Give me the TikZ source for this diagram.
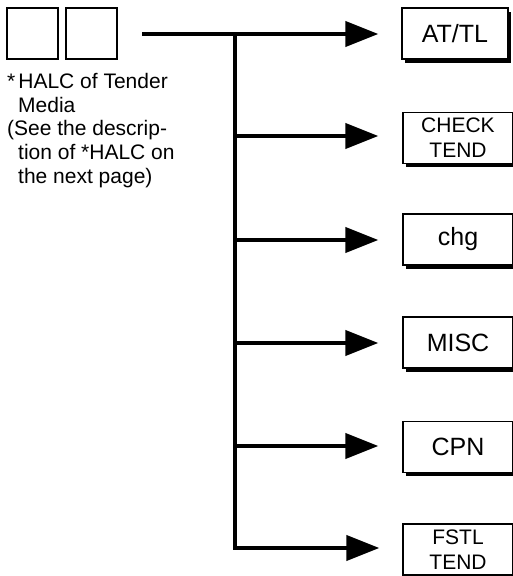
\documentclass[tikz,border=0pt]{standalone}
\usepackage{fontspec}
\setmainfont{Liberation Sans}
\usetikzlibrary{arrows.meta,shadows}

\begin{document}
\begin{tikzpicture}[x=1pt, y=-1pt,
    every node/.style={inner sep=0pt},
    sq/.style={rectangle, draw, line width=1.3pt, minimum size=51pt},
    bx/.style={rectangle, draw, fill=white, line width=1.3pt,
               minimum width=110pt, minimum height=51pt,
               font=\fontsize{25}{30}\selectfont,
               drop shadow={shadow xshift=3pt, shadow yshift=-3.5pt,
                            fill=black, opacity=1}},
    two/.style={align=center, font=\fontsize{21}{25}\selectfont},
    note/.style={align=left, font=\fontsize{21}{23.7}\selectfont},
    e/.style={line width=4pt, -{Triangle[length=33pt, width=25pt]}},
  ]
  \useasboundingbox (0,0) rectangle (513,576);
  % code boxes
  \node[sq] (sq1) at (32.5, 33.5) {};
  \node[sq] (sq2) at (91.5, 33.5) {};
  % base anchor sits on the last line
  \node[note, anchor=base west] (halc) at (7, 183.3)
    {*\hspace{3pt}HALC of Tender\\\hspace*{11pt}Media\\(See the descrip-\\
     \hspace*{11pt}tion of *HALC on\\\hspace*{11pt}the next page)};
  % targets
  \node[bx, minimum width=106pt] (attl) at (455, 33.5) {AT/TL};
  \node[bx, two] (check) at (458, 138) {CHECK\\TEND};
  \node[bx] (chg) at (458, 239.5) {chg};
  \node[bx] (misc) at (458, 342.5) {MISC};
  \node[bx] (cpn) at (458, 447) {CPN};
  \node[bx, two] (fstl) at (458, 549.5) {FSTL\\TEND};
  % branch points
  \coordinate (src) at (142, 34);
  \coordinate (j1) at (235, 34);
  \coordinate (j2) at (235, 136);
  \coordinate (j3) at (235, 240);
  \coordinate (j4) at (235, 343);
  \coordinate (j5) at (235, 446);
  \coordinate (j6) at (235, 548);
  \draw[e, shorten >=23pt] (src) -- (src -| attl.west);
  \draw[e, shorten >=23pt] (j1) -- (j6) -- (j6 -| fstl.west);
  \draw[e, shorten >=24pt] (j2) -- (j2 -| check.west);
  \draw[e, shorten >=24pt] (j3) -- (j3 -| chg.west);
  \draw[e, shorten >=24pt] (j4) -- (j4 -| misc.west);
  \draw[e, shorten >=24pt] (j5) -- (j5 -| cpn.west);
\end{tikzpicture}
\end{document}
